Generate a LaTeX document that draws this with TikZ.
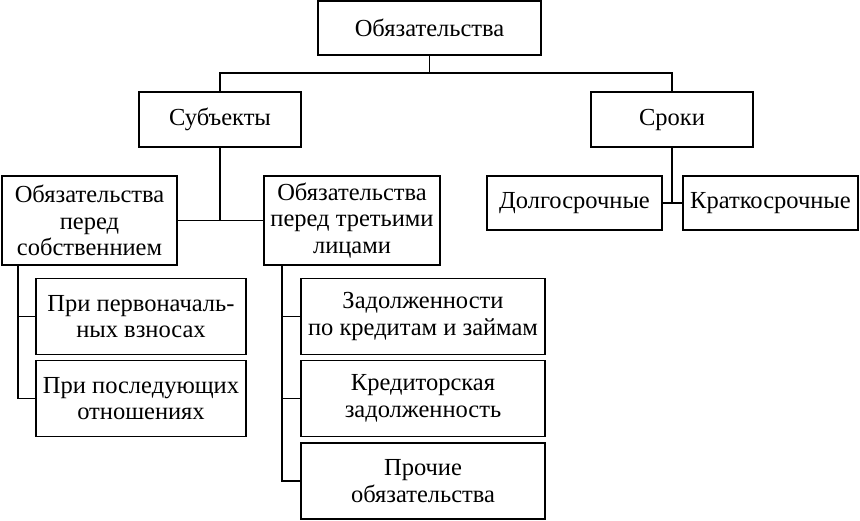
\documentclass[tikz,border=0pt]{standalone}
\usepackage{fontspec}
\setmainfont{Liberation Serif}
\usepackage{tikz}
\usetikzlibrary{calc}

\begin{document}
\begin{tikzpicture}[x=1pt,y=-1pt,line width=1.2pt,
  box/.style={draw,rectangle,inner sep=0pt,align=center,font=\fontsize{24.5}{26.5}\selectfont}]
                      \useasboundingbox (0,0) rectangle (860,520);
                      \node[box,minimum width=223,minimum height=54](top)at(429.5,28){Обязательства};
                      \node[box,minimum width=162,minimum height=55](sub)at(220,119.5){Субъекты};
                      \node[box,minimum width=162,minimum height=55](term)at(672,119.5){Сроки};
                      \node[box,minimum width=175,minimum height=89](own)at(89.5,220.5){Обязательства\\перед\\собственнием};
                      \node[box,minimum width=176,minimum height=89](third)at(352,220.5){Обязательства\\перед третьими\\лицами};
                      \node[box,minimum width=175,minimum height=54](long)at(574.5,203){Долгосрочные};
                      \node[box,minimum width=175,minimum height=54](short)at(770.5,203){Краткосрочные};
                      \node[box,minimum width=210,minimum height=76](init)at(141,316.5){При первоначаль-\\ных взносах};
                      \node[box,minimum width=210,minimum height=76](next)at(141,398.5){При последующих\\отношениях};
                      \node[box,minimum width=244,minimum height=76](loan)at(423,316.5){Задолженности\\по кредитам и займам};
                      \node[box,minimum width=244,minimum height=76](cred)at(423,398.5){Кредиторская\\задолженность};
                      \node[box,minimum width=244,minimum height=76](other)at(423,481){Прочие\\обязательства};
                      \coordinate(j)at(429.5,73);
                      \coordinate(l)at(18,265.5);
                      \coordinate(r)at(282,265.5);
                      \draw(top)--(j);
                      \draw(sub)|-(j)-|(term);
                      \draw(sub)--(sub|-own.east);
                      \draw(own)--(third);
                      \draw(term)--(term|-long.east);
                      \draw(long)--(short);
                      \foreach \b in {init,next} \draw(l)|-(\b.west);
                      \foreach \b in {loan,cred,other} \draw(r)|-(\b.west);
                  \end{tikzpicture}
\end{document}
